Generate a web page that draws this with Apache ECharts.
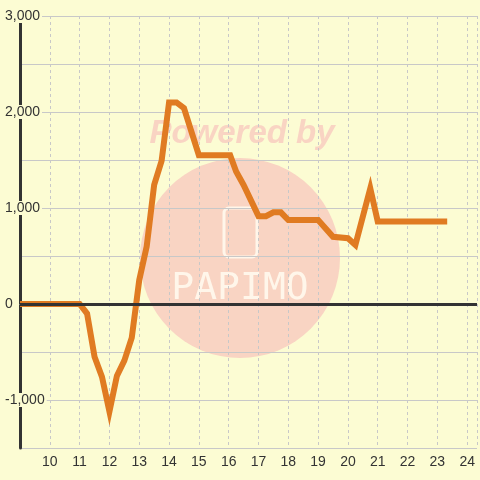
<!DOCTYPE html>
<html>
<head>
<meta charset="utf-8">
<script src="https://cdn.jsdelivr.net/npm/echarts@6/dist/echarts.min.js"></script>
<style>
  html, body { margin: 0; padding: 0; background: #fcfcd3; }
  #chart { width: 480px; height: 480px; }
</style>
</head>
<body>
<div id="chart"></div>
<script>
// x positions (hours) and values
const xValues = [9, 11, 11.25, 11.5, 11.75, 12, 12.25, 12.5, 12.75, 13, 13.25, 13.5, 13.75, 14, 14.25, 14.5, 15, 16.05, 16.25, 16.5, 17, 17.25, 17.5, 17.75, 18, 19, 19.5, 20, 20.25, 20.75, 21, 23.33]
const yValues = [0, 0, -100, -550, -760, -1120, -750, -590, -350, 250, 600, 1240, 1490, 2100, 2100, 2040, 1550, 1550, 1380, 1240, 915, 915, 955, 955, 875, 875, 700, 685, 615, 1205, 860, 860]
const xTicks = [10, 11, 12, 13, 14, 15, 16, 17, 18, 19, 20, 21, 22, 23, 24]
const yTicks = [-1000, 0, 1000, 2000, 3000]

const bg = '#fcfcd3'
const gridColor = '#c8c8c8'
const pink = '#f9d4c3'

const chart = echarts.init(document.getElementById('chart'))

chart.setOption({
  backgroundColor: bg,
  animation: false,
  // watermark
  graphic: [
    {
      type: 'circle',
      z: -10,
      shape: { cx: 240, cy: 258, r: 100 },
      style: { fill: pink }
    },
    {
      type: 'rect',
      z: -9,
      shape: { x: 224, y: 208, width: 33, height: 49, r: 5 },
      style: { fill: 'none', stroke: '#fff6ea', lineWidth: 3 }
    },
    {
      type: 'text',
      z: -9,
      style: {
        x: 240, y: 289,
        text: 'PAPIMO',
        fill: '#fff6ea',
        font: 'normal 38px "DejaVu Sans Mono"',
        align: 'center',
        verticalAlign: 'middle'
      }
    },
    {
      type: 'text',
      z: -9,
      style: {
        x: 242, y: 134,
        text: 'Powered by',
        fill: pink,
        font: 'italic bold 33px "Liberation Sans"',
        align: 'center',
        verticalAlign: 'middle'
      }
    }
  ],
  grid: {
    left: 20,
    right: 0,
    top: 16,
    bottom: 32,
    containLabel: false
  },
  xAxis: {
    type: 'value',
    min: 9,
    max: 24.33,
    interval: 1,
    axisLine: { lineStyle: { color: gridColor, width: 1 } },
    axisTick: { show: false },
    axisLabel: {
      showMinLabel: false,
      margin: 7,
      fontSize: 14,
      color: '#333',
      fontFamily: 'Liberation Sans',
      formatter: function (v) {
        return xTicks.indexOf(v) >= 0 ? String(v) : ''
      }
    },
    splitLine: {
      lineStyle: { color: gridColor, type: [3, 3], width: 1 }
    }
  },
  yAxis: {
    type: 'value',
    min: -1500,
    max: 3000,
    interval: 500,
    axisLine: { show: true, lineStyle: { color: '#333', width: 3 } },
    axisTick: { show: false },
    axisLabel: {
      align: 'left',
      margin: 15,
      fontSize: 14,
      color: '#333',
      fontFamily: 'Liberation Sans',
      backgroundColor: bg,
      padding: [0, 2, 0, 0],
      formatter: function (v) {
        return yTicks.indexOf(v) >= 0 ? v.toLocaleString('en-US') : ''
      }
    },
    splitLine: {
      lineStyle: { color: gridColor, width: 1 }
    }
  },
  series: [
    {
      type: 'line',
      z: 1,
      data: [],
      markLine: {
        silent: true,
        symbol: 'none',
        label: { show: false },
        lineStyle: { color: '#333', width: 3, type: 'solid' },
        data: [{ yAxis: 0 }]
      }
    },
    {
      type: 'line',
      z: 3,
      showSymbol: false,
      smooth: false,
      lineStyle: { color: '#e07b22', width: 6, join: 'miter' },
      itemStyle: { color: '#e07b22' },
      data: xValues.map((x, i) => [x, yValues[i]])
    }
  ]
})
</script>
</body>
</html>
